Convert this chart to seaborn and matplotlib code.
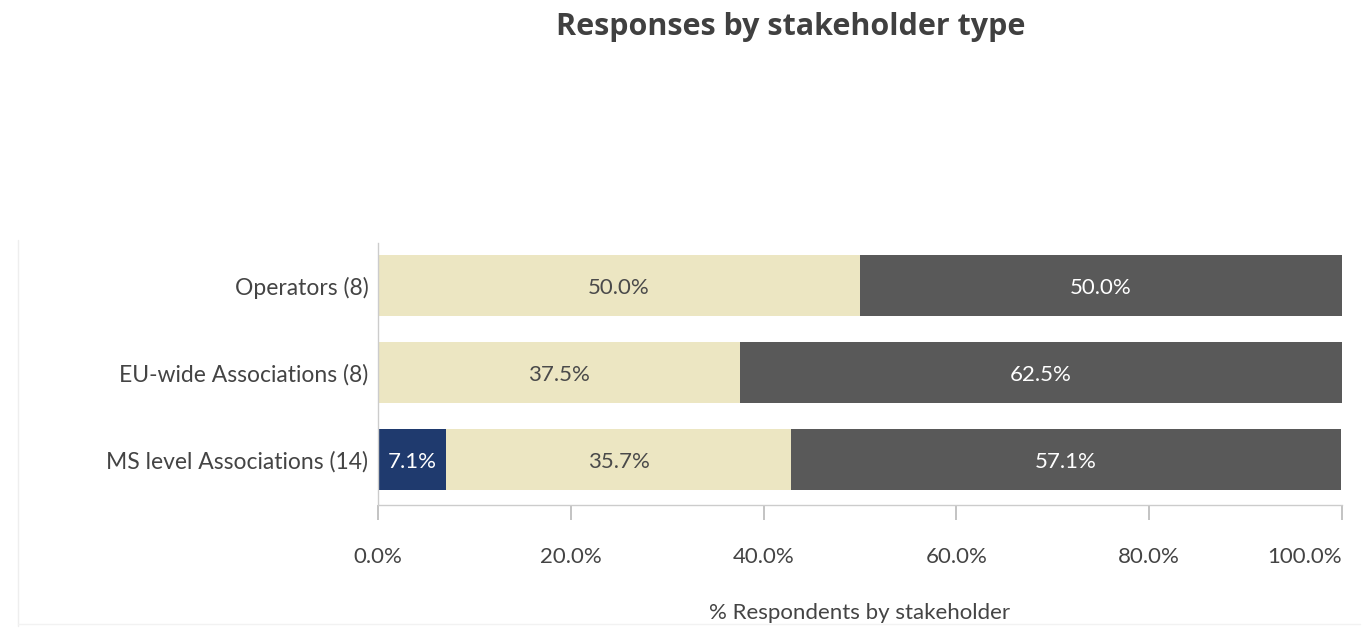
import pandas as pd
import numpy as np
import matplotlib
matplotlib.use("Agg")
import matplotlib.pyplot as plt
import seaborn as sns

# data
groups = ["Operators (8)", "EU-wide Associations (8)", "MS level Associations (14)"]
navy_vals = [0.0, 0.0, 7.1]
beige_vals = [50.0, 37.5, 35.7]
gray_vals = [50.0, 62.5, 57.1]
xticks = [0, 20, 40, 60, 80, 100]

sns.set_theme(style="white")
plt.rcParams["font.family"] = ["Lato", "DejaVu Sans"]

df = pd.DataFrame({"group": groups, "navy": navy_vals, "beige": beige_vals, "gray": gray_vals})
df["c_navy"] = df["navy"]
df["c_beige"] = df["navy"] + df["beige"]
df["c_gray"] = df["c_beige"] + df["gray"]

fig = plt.figure(figsize=(13.7, 6.32), dpi=100)
ax = fig.add_axes([0.2759, 0.2009, 0.7037, 0.4146])

cols = {"navy": "#1f3a6e", "beige": "#ece6c2", "gray": "#595959"}
txt_col = {"navy": "white", "beige": "#4a4a4a", "gray": "white"}
# layered cumulative bars, widest first
for key in ["gray", "beige", "navy"]:
    sns.barplot(data=df, x="c_" + key, y="group", color=cols[key], orient="h",
                width=0.7, ax=ax, saturation=1, linewidth=0)

for i, row in df.iterrows():
    start = 0.0
    for key in ["navy", "beige", "gray"]:
        v = row[key]
        if v > 0:
            ax.text(start + v / 2, i + 0.03, f"{v:.1f}%", ha="center", va="center",
                    fontsize=16, color=txt_col[key])
        start += v

ax.set_xlim(0, 100)
ax.set_ylim(2.52, -0.49)
ax.set_xticks(xticks)
ax.set_xticklabels([f"{t:.1f}%" for t in xticks], fontsize=16, color="#444444")
ax.get_xticklabels()[-1].set_ha("right")
ax.tick_params(axis="x", bottom=True, length=11, color="#bbbbbb", pad=19)
ax.tick_params(axis="y", left=False, length=0, labelsize=16.5, colors="#444444", pad=7)
ax.set_ylabel("")
ax.set_xlabel("% Respondents by stakeholder", fontsize=16, color="#444444", labelpad=26)
for s in ["top", "right"]:
    ax.spines[s].set_visible(False)
for s in ["left", "bottom"]:
    ax.spines[s].set_color("#cccccc")
    ax.spines[s].set_linewidth(1)

fig.text(0.577, 0.958, "Responses by stakeholder type", ha="center", va="center",
         fontsize=22, fontweight="bold", color="#404040", family=["Open Sans", "DejaVu Sans"])

# faint frame around the chart area
fig.add_artist(plt.Line2D([0.013, 0.013], [0.01, 0.62], color="#eeeeee", lw=1))
fig.add_artist(plt.Line2D([0.013, 0.993], [0.012, 0.012], color="#f2f2f2", lw=1))

fig.savefig("out.png", dpi=100)
